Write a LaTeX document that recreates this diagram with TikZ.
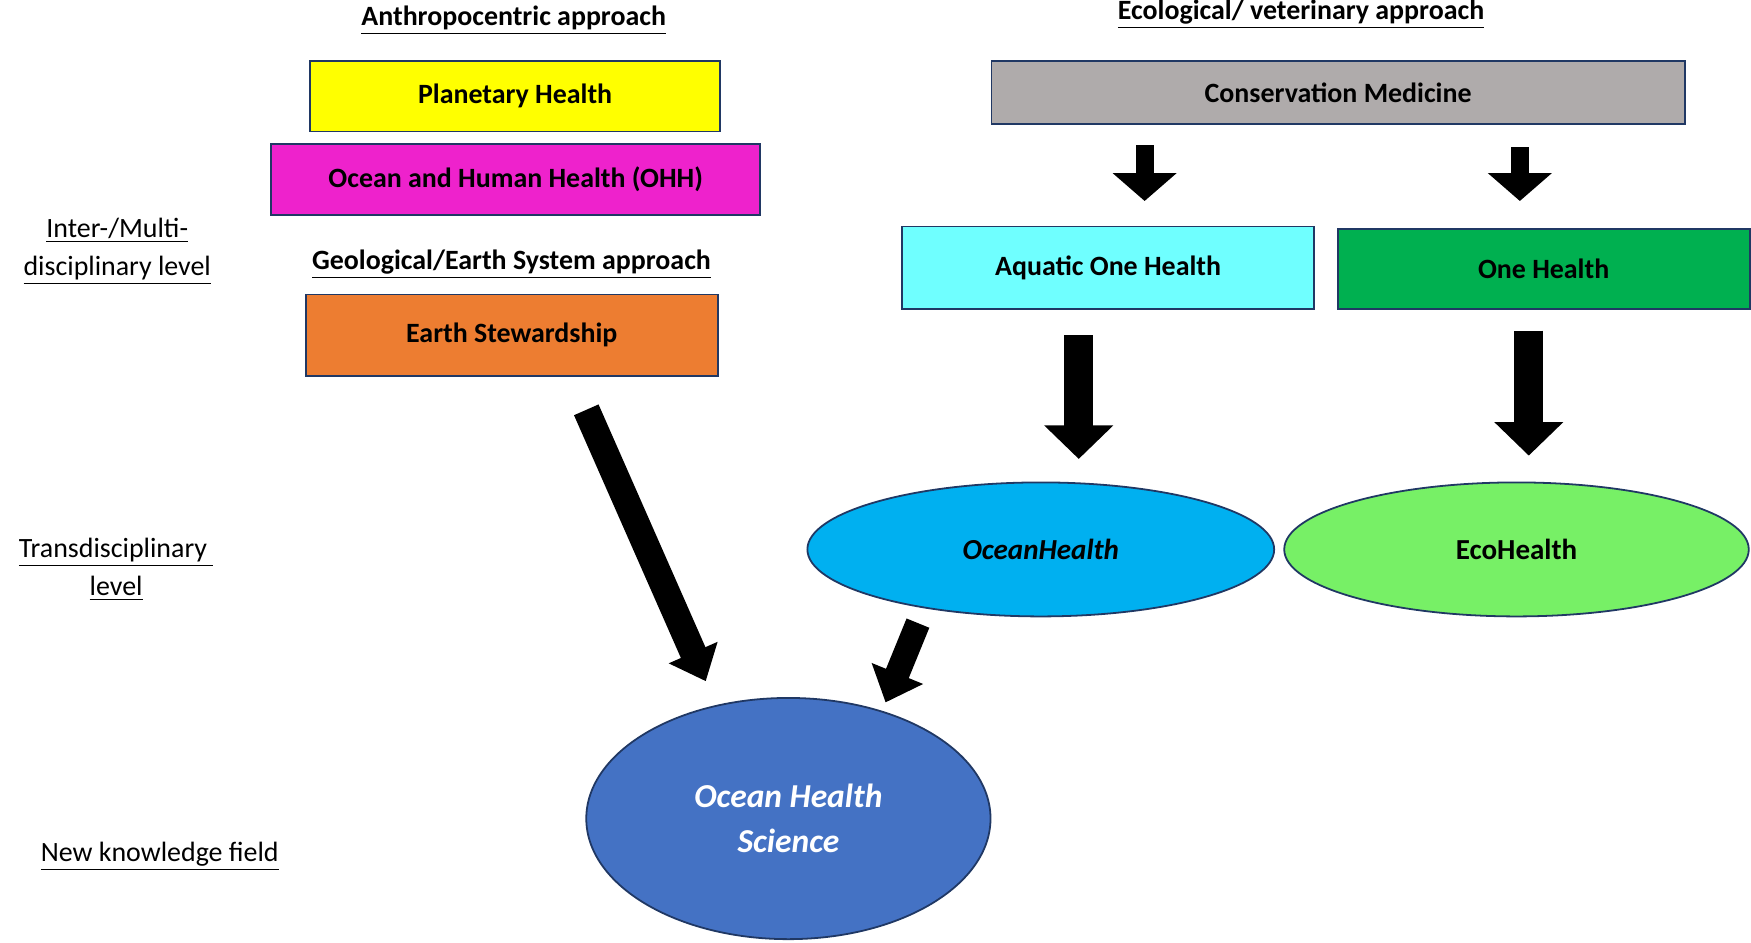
\documentclass[tikz,border=0pt]{standalone}
\usepackage{fontspec}
\setmainfont{Carlito}
\usetikzlibrary{arrows.meta,shapes.geometric}
\definecolor{ph}{HTML}{FFFF00}
\definecolor{ohh}{HTML}{EE22CC}
\definecolor{es}{HTML}{ED7D31}
\definecolor{cm}{HTML}{AFABAB}
\definecolor{aoh}{HTML}{6FFFFF}
\definecolor{oh}{HTML}{00B050}
\definecolor{ocean}{HTML}{00B0F0}
\definecolor{eco}{HTML}{77F066}
\definecolor{ohs}{HTML}{4472C4}
\definecolor{edge}{HTML}{203864}
\begin{document}
\begin{tikzpicture}[x=0.5pt,y=-0.5pt,
  box/.style={draw=edge,line width=0.8pt,font=\fontsize{12.5}{14}\selectfont\bfseries,anchor=north west,inner sep=0pt},
  ell/.style={ellipse,draw=edge,line width=0.8pt,font=\fontsize{13}{15}\selectfont\bfseries,inner sep=0pt},
  head/.style={font=\fontsize{12.5}{14}\selectfont\bfseries},
  lvl/.style={font=\fontsize{12.5}{17}\selectfont,align=center},
  fat/.style={draw=black,line width=#1},
  fat/.default=8pt]
\useasboundingbox (0,0) rectangle (1568,843.6);
\node[head] (ha) at (460,18) {\underline{Anthropocentric approach}};
\node[box,fill=ph,minimum width=183.5pt,minimum height=31.5pt] (ph) at (277,54) {Planetary Health};
\node[box,fill=ohh,minimum width=219pt,minimum height=32pt] (ohh) at (242,128) {Ocean and Human Health (OHH)};
\node[head] (hg) at (458,237) {\underline{Geological/Earth System approach}};
\node[box,fill=es,minimum width=184.5pt,minimum height=36.5pt] (es) at (273,263) {Earth Stewardship};
\node[head] (he) at (1165,13) {\underline{Ecological/ veterinary approach}};
\node[box,fill=cm,minimum width=310.5pt,minimum height=28pt] (cm) at (887,54) {Conservation Medicine};
\node[box,fill=aoh,minimum width=184.5pt,minimum height=37pt] (aoh) at (807,202) {Aquatic One Health};
\node[box,fill=oh,minimum width=184.5pt,minimum height=36pt] (oh) at (1197,204) {One Health};
\node[ell,fill=ocean,minimum width=209pt,minimum height=60pt] (ocean) at (932,492) {\itshape OceanHealth};
\node[ell,fill=eco,minimum width=208pt,minimum height=60pt] (eco) at (1358,492) {EcoHealth};
\node[ell,fill=ohs,minimum width=181pt,minimum height=108pt,text=white,align=center,font=\fontsize{15}{20}\selectfont\bfseries\itshape] (ohs) at (706,733) {Ocean Health\\Science};
\node[lvl] (l1) at (105,225) {\underline{Inter-/Multi-}\\\underline{disciplinary level}};
\node[lvl] (l2) at (104,510) {\underline{Transdisciplinary }\\\underline{level}};
\node[lvl] (l3) at (143,767) {\underline{New knowledge field}};
\coordinate (a1s) at (1025,130); \coordinate (a1e) at (1025,180);
\coordinate (a2s) at (1361,132); \coordinate (a2e) at (1361,180);
\coordinate (a3s) at (966,300); \coordinate (a3e) at (966,411);
\coordinate (a4s) at (1369,296); \coordinate (a4e) at (1369,408);
\coordinate (a5s) at (525,367); \coordinate (a5e) at (632,610);
\coordinate (a6s) at (822,558); \coordinate (a6e) at (793,629);
\draw[fat=8pt,-{Triangle[width=28pt,length=12.5pt]}] (a1s) -- (a1e);
\draw[fat=8pt,-{Triangle[width=28pt,length=12.5pt]}] (a2s) -- (a2e);
\draw[fat=13pt,-{Triangle[width=30pt,length=15pt]}] (a3s) -- (a3e);
\draw[fat=13pt,-{Triangle[width=30pt,length=15pt]}] (a4s) -- (a4e);
\draw[fat=12pt,-{Triangle[width=23pt,length=14pt]}] (a5s) -- (a5e);
\draw[fat=11pt,-{Triangle[width=24pt,length=14pt]}] (a6s) -- (a6e);
\end{tikzpicture}
\end{document}
